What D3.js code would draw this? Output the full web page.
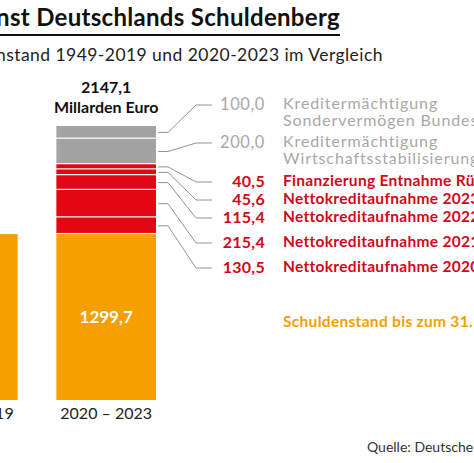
<!DOCTYPE html><html><head><meta charset="utf-8"><script src="https://cdn.jsdelivr.net/npm/d3@7"></script>
<style>body{margin:0;background:#fff}text{font-family:Lato,"Open Sans",sans-serif}</style></head><body>
<svg id="c" width="474" height="463"></svg>
<script>
const categories=["1949 – 2019","2020 – 2023"];
const baseValues=[1299.7,1299.7];
const segLabels=["Nettokreditaufnahme 2020","Nettokreditaufnahme 2021","Nettokreditaufnahme 2022","Nettokreditaufnahme 2023","Finanzierung Entnahme Rücklage","Kreditermächtigung|Wirtschaftsstabilisierungsfonds","Kreditermächtigung|Sondervermögen Bundeswehr"];
const segValues=[130.5,215.4,115.4,45.6,40.5,200.0,100.0];
const segColors=["#e30613","#e30613","#e30613","#e30613","#e30613","#a3a3a3","#a3a3a3"];
const labelY=[268,243,218,200,182,143,105];
const fmt=v=>d3.format(".1f")(v).replace(".",",");
const svg=d3.select("#c");
const y=d3.scaleLinear().domain([0,2147.1]).range([400,126]);
const x=d3.scaleBand().domain(categories).range([-82,156]).paddingInner(0.28).paddingOuter(0);
svg.append("text").attr("x",340).attr("y",26).attr("text-anchor","end").attr("font-size",24).attr("font-weight",700).attr("letter-spacing",0.3).attr("fill","#111").text("Wie die Krisen einst Deutschlands Schuldenberg");
svg.append("rect").attr("x",0).attr("y",34).attr("width",340).attr("height",2).attr("fill","#111");
svg.append("text").attr("x",383).attr("y",61).attr("text-anchor","end").attr("font-size",17.5).attr("letter-spacing",0.45).attr("fill","#222").text("Schuldenstand 1949-2019 und 2020-2023 im Vergleich");
categories.forEach((c,i)=>{
 svg.append("rect").attr("x",x(c)).attr("width",x.bandwidth()).attr("y",y(baseValues[i])).attr("height",y(0)-y(baseValues[i])).attr("fill","#f5a000");
 svg.append("text").attr("x",x(c)+x.bandwidth()/2).attr("y",419).attr("text-anchor","middle").attr("font-size",16).attr("fill","#222").text(c);
});
const c2=categories[1],bx=x(c2),bw=x.bandwidth();
svg.append("text").attr("x",bx+bw/2).attr("y",323).attr("text-anchor","middle").attr("font-size",17).attr("font-weight",700).attr("fill","#fff").text(fmt(baseValues[1]));
let cum=baseValues[1];
segValues.forEach((v,i)=>{
 const y0=y(cum),y1=y(cum+v);cum+=v;
 svg.append("rect").attr("x",bx).attr("width",bw).attr("y",y1).attr("height",y0-y1-1.2).attr("fill",segColors[i]);
 const my=(y0+y1)/2, ly=labelY[i];
 svg.append("path").attr("d",`M${bx+bw+2},${my}L${bx+bw+12},${my}L${196},${ly}L${212},${ly}`).attr("fill","none").attr("stroke","#777").attr("stroke-width",0.8);
 const grey=segColors[i]!="#e30613";
 const col=grey?"#a8a8a8":"#d2071a";
 svg.append("text").attr("x",265).attr("y",ly+5).attr("text-anchor","end").attr("font-size",grey?16.5:16).attr("font-weight",grey?400:700).attr("letter-spacing",grey?0.6:0.3).attr("fill",col).text(fmt(v));
 segLabels[i].split("|").forEach((t,k)=>svg.append("text").attr("x",283).attr("y",ly+4+k*17).attr("font-size",grey?16:15.5).attr("font-weight",grey?400:700).attr("fill",col).attr("letter-spacing",grey?0.9:0.3).text(t));
});
svg.append("text").attr("x",bx+bw/2).attr("y",93).attr("text-anchor","middle").attr("font-size",16).attr("font-weight",700).attr("fill","#111").text(fmt(cum));
svg.append("text").attr("x",bx+bw/2).attr("y",113).attr("text-anchor","middle").attr("font-size",16).attr("font-weight",700).attr("fill","#111").text("Millarden Euro");
svg.append("text").attr("x",283).attr("y",327).attr("font-size",15.5).attr("font-weight",700).attr("letter-spacing",0.3).attr("fill","#f5a000").text("Schuldenstand bis zum 31.12.2019");
svg.append("text").attr("x",367).attr("y",452).attr("font-size",14).attr("fill","#333").text("Quelle: Deutsche Bundesbank");
</script></body></html>
